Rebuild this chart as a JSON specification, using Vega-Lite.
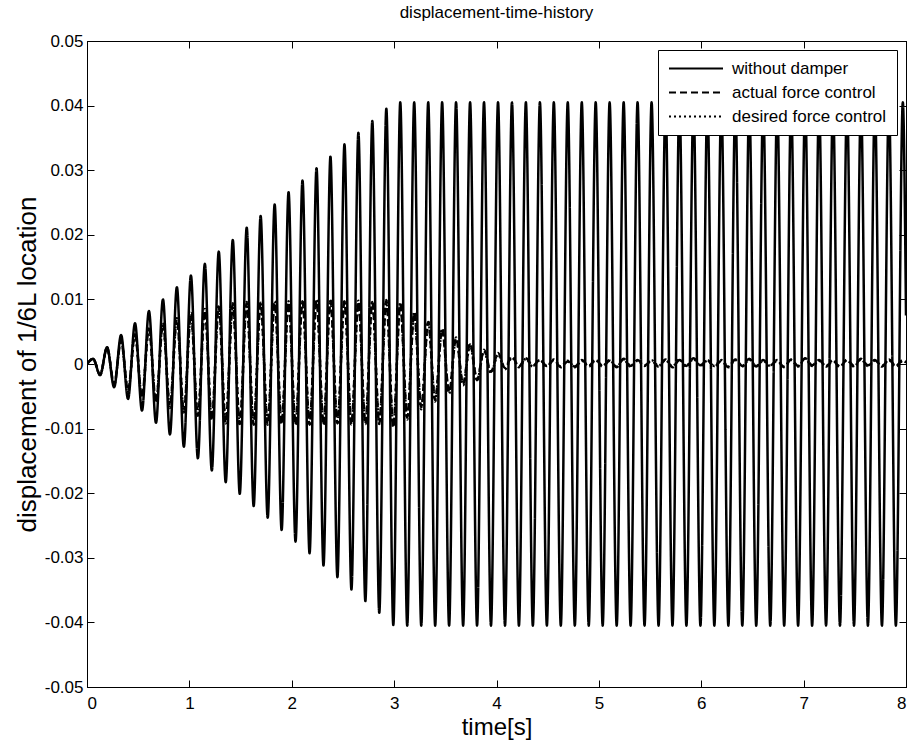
{
  "$schema": "https://vega.github.io/schema/vega-lite/v6.json",
  "width": 819,
  "height": 646,
  "autosize": {"type": "none"},
  "padding": {"left": 87, "top": 41, "right": 8, "bottom": 57},
  "background": "white",
  "config": {
    "font": "Liberation Sans",
    "view": {"stroke": "black", "strokeWidth": 1},
    "axis": {"grid": false, "domainColor": "black", "tickColor": "black", "labelColor": "black", "titleColor": "black", "labelFont": "Liberation Sans", "titleFont": "Liberation Sans", "labelFontSize": 17, "titleFontSize": 26, "titleFontWeight": "normal", "tickSize": -7, "domainWidth": 1, "tickWidth": 1}
  },
  "title": {"text": "displacement-time-history", "font": "Liberation Sans", "fontSize": 17, "fontWeight": "normal", "color": "black", "anchor": "middle", "offset": 10},
  "data": {"values": [
    {"t":0,"a":0,"b":0,"c":0},
    {"t":0.060,"a":0.0008,"b":0.0008,"c":0.0008},
    {"t":0.128,"a":-0.0017,"b":-0.0017,"c":-0.0017},
    {"t":0.196,"a":0.0026,"b":0.0025,"c":0.0026},
    {"t":0.265,"a":-0.0036,"b":-0.0031,"c":-0.0032},
    {"t":0.333,"a":0.0045,"b":0.0036,"c":0.0037},
    {"t":0.401,"a":-0.0054,"b":-0.0041,"c":-0.0042},
    {"t":0.469,"a":0.0063,"b":0.0046,"c":0.0047},
    {"t":0.537,"a":-0.0072,"b":-0.0051,"c":-0.0052},
    {"t":0.605,"a":0.0082,"b":0.0055,"c":0.0056},
    {"t":0.674,"a":-0.0091,"b":-0.0059,"c":-0.0060},
    {"t":0.742,"a":0.0100,"b":0.0062,"c":0.0064},
    {"t":0.810,"a":-0.0109,"b":-0.0066,"c":-0.0068},
    {"t":0.878,"a":0.0119,"b":0.0070,"c":0.0071},
    {"t":0.946,"a":-0.0128,"b":-0.0074,"c":-0.0075},
    {"t":1.015,"a":0.0137,"b":0.0077,"c":0.0079},
    {"t":1.083,"a":-0.0146,"b":-0.0080,"c":-0.0081},
    {"t":1.151,"a":0.0155,"b":0.0083,"c":0.0085},
    {"t":1.219,"a":-0.0165,"b":-0.0086,"c":-0.0087},
    {"t":1.287,"a":0.0174,"b":0.0089,"c":0.0090},
    {"t":1.355,"a":-0.0183,"b":-0.0091,"c":-0.0092},
    {"t":1.424,"a":0.0192,"b":0.0092,"c":0.0094},
    {"t":1.492,"a":-0.0201,"b":-0.0093,"c":-0.0094},
    {"t":1.560,"a":0.0211,"b":0.0094,"c":0.0096},
    {"t":1.628,"a":-0.0220,"b":-0.0094,"c":-0.0095},
    {"t":1.696,"a":0.0229,"b":0.0095,"c":0.0096},
    {"t":1.765,"a":-0.0238,"b":-0.0093,"c":-0.0094},
    {"t":1.833,"a":0.0247,"b":0.0095,"c":0.0097},
    {"t":1.901,"a":-0.0257,"b":-0.0092,"c":-0.0093},
    {"t":1.969,"a":0.0266,"b":0.0096,"c":0.0097},
    {"t":2.037,"a":-0.0275,"b":-0.0093,"c":-0.0094},
    {"t":2.105,"a":0.0284,"b":0.0097,"c":0.0098},
    {"t":2.174,"a":-0.0293,"b":-0.0094,"c":-0.0095},
    {"t":2.242,"a":0.0303,"b":0.0098,"c":0.0099},
    {"t":2.310,"a":-0.0312,"b":-0.0093,"c":-0.0094},
    {"t":2.378,"a":0.0321,"b":0.0098,"c":0.0099},
    {"t":2.446,"a":-0.0330,"b":-0.0092,"c":-0.0093},
    {"t":2.515,"a":0.0340,"b":0.0097,"c":0.0098},
    {"t":2.583,"a":-0.0349,"b":-0.0093,"c":-0.0094},
    {"t":2.651,"a":0.0358,"b":0.0097,"c":0.0098},
    {"t":2.719,"a":-0.0367,"b":-0.0092,"c":-0.0093},
    {"t":2.787,"a":0.0376,"b":0.0096,"c":0.0097},
    {"t":2.855,"a":-0.0385,"b":-0.0092,"c":-0.0093},
    {"t":2.924,"a":0.0395,"b":0.0098,"c":0.0099},
    {"t":2.992,"a":-0.0404,"b":-0.0097,"c":-0.0098},
    {"t":3.060,"a":0.0405,"b":0.0093,"c":0.0095},
    {"t":3.128,"a":-0.0405,"b":-0.0083,"c":-0.0086},
    {"t":3.196,"a":0.0405,"b":0.0079,"c":0.0081},
    {"t":3.265,"a":-0.0405,"b":-0.0067,"c":-0.0070},
    {"t":3.333,"a":0.0405,"b":0.0065,"c":0.0066},
    {"t":3.401,"a":-0.0405,"b":-0.0056,"c":-0.0058},
    {"t":3.469,"a":0.0405,"b":0.0054,"c":0.0055},
    {"t":3.537,"a":-0.0405,"b":-0.0044,"c":-0.0046},
    {"t":3.605,"a":0.0405,"b":0.0040,"c":0.0041},
    {"t":3.674,"a":-0.0405,"b":-0.0031,"c":-0.0033},
    {"t":3.742,"a":0.0405,"b":0.0032,"c":0.0030},
    {"t":3.810,"a":-0.0405,"b":-0.0025,"c":-0.0026},
    {"t":3.878,"a":0.0405,"b":0.0022,"c":0.0020},
    {"t":3.946,"a":-0.0405,"b":-0.0012,"c":-0.0014},
    {"t":4.015,"a":0.0405,"b":0.0017,"c":0.0015},
    {"t":4.083,"a":-0.0405,"b":-0.0006,"c":-0.0008},
    {"t":4.151,"a":0.0405,"b":0.0012,"c":0.0010},
    {"t":4.219,"a":-0.0405,"b":-0.0004,"c":-0.0005},
    {"t":4.287,"a":0.0405,"b":0.0009,"c":0.0008},
    {"t":4.355,"a":-0.0405,"b":-0.0003,"c":-0.0004},
    {"t":4.424,"a":0.0405,"b":0.0007,"c":0.0006},
    {"t":4.492,"a":-0.0405,"b":-0.0004,"c":-0.0003},
    {"t":4.560,"a":0.0405,"b":0.0006,"c":0.0007},
    {"t":4.628,"a":-0.0405,"b":-0.0005,"c":-0.0004},
    {"t":4.696,"a":0.0405,"b":0.0004,"c":0.0005},
    {"t":4.765,"a":-0.0405,"b":-0.0004,"c":-0.0005},
    {"t":4.833,"a":0.0405,"b":0.0006,"c":0.0005},
    {"t":4.901,"a":-0.0405,"b":-0.0003,"c":-0.0004},
    {"t":4.969,"a":0.0405,"b":0.0007,"c":0.0006},
    {"t":5.037,"a":-0.0405,"b":-0.0004,"c":-0.0003},
    {"t":5.105,"a":0.0405,"b":0.0005,"c":0.0006},
    {"t":5.174,"a":-0.0405,"b":-0.0005,"c":-0.0004},
    {"t":5.242,"a":0.0405,"b":0.0008,"c":0.0007},
    {"t":5.310,"a":-0.0405,"b":-0.0003,"c":-0.0004},
    {"t":5.378,"a":0.0405,"b":0.0006,"c":0.0005},
    {"t":5.446,"a":-0.0405,"b":-0.0002,"c":-0.0003},
    {"t":5.515,"a":0.0405,"b":0.0005,"c":0.0006},
    {"t":5.583,"a":-0.0405,"b":-0.0004,"c":-0.0003},
    {"t":5.651,"a":0.0405,"b":0.0007,"c":0.0006},
    {"t":5.719,"a":-0.0405,"b":-0.0005,"c":-0.0004},
    {"t":5.787,"a":0.0405,"b":0.0006,"c":0.0007},
    {"t":5.855,"a":-0.0405,"b":-0.0003,"c":-0.0004},
    {"t":5.924,"a":0.0405,"b":0.0009,"c":0.0008},
    {"t":5.992,"a":-0.0405,"b":-0.0002,"c":-0.0003},
    {"t":6.060,"a":0.0405,"b":0.0006,"c":0.0005},
    {"t":6.128,"a":-0.0405,"b":-0.0004,"c":-0.0003},
    {"t":6.196,"a":0.0405,"b":0.0005,"c":0.0006},
    {"t":6.265,"a":-0.0405,"b":-0.0005,"c":-0.0004},
    {"t":6.333,"a":0.0405,"b":0.0007,"c":0.0006},
    {"t":6.401,"a":-0.0405,"b":-0.0003,"c":-0.0004},
    {"t":6.469,"a":0.0405,"b":0.0008,"c":0.0007},
    {"t":6.537,"a":-0.0405,"b":-0.0004,"c":-0.0003},
    {"t":6.605,"a":0.0405,"b":0.0006,"c":0.0005},
    {"t":6.674,"a":-0.0405,"b":-0.0002,"c":-0.0003},
    {"t":6.742,"a":0.0405,"b":0.0005,"c":0.0006},
    {"t":6.810,"a":-0.0405,"b":-0.0005,"c":-0.0004},
    {"t":6.878,"a":0.0405,"b":0.0007,"c":0.0006},
    {"t":6.946,"a":-0.0405,"b":-0.0003,"c":-0.0004},
    {"t":7.015,"a":0.0405,"b":0.0009,"c":0.0008},
    {"t":7.083,"a":-0.0405,"b":-0.0002,"c":-0.0003},
    {"t":7.151,"a":0.0405,"b":0.0006,"c":0.0005},
    {"t":7.219,"a":-0.0405,"b":-0.0004,"c":-0.0003},
    {"t":7.287,"a":0.0405,"b":0.0005,"c":0.0006},
    {"t":7.355,"a":-0.0405,"b":-0.0005,"c":-0.0004},
    {"t":7.424,"a":0.0405,"b":0.0007,"c":0.0006},
    {"t":7.492,"a":-0.0405,"b":-0.0003,"c":-0.0004},
    {"t":7.560,"a":0.0405,"b":0.0008,"c":0.0007},
    {"t":7.628,"a":-0.0405,"b":-0.0002,"c":-0.0003},
    {"t":7.696,"a":0.0405,"b":0.0006,"c":0.0005},
    {"t":7.765,"a":-0.0405,"b":-0.0004,"c":-0.0003},
    {"t":7.833,"a":0.0405,"b":0.0007,"c":0.0006},
    {"t":7.901,"a":-0.0405,"b":-0.0003,"c":-0.0004},
    {"t":7.969,"a":0.0405,"b":0.0006,"c":0.0005},
    {"t":8.0,"a":0.0075,"b":0.0002,"c":0.0003}
  ]},
  "layer": [
    {
      "transform": [{"fold": ["a", "b", "c"], "as": ["key", "value"]}],
      "mark": {"type": "line", "interpolate": "monotone", "strokeWidth": 2.5, "color": "black", "clip": true},
      "encoding": {
        "x": {"field": "t", "type": "quantitative", "scale": {"domain": [0, 8], "nice": false, "zero": false},
          "axis": {"orient": "bottom", "values": [0,1,2,3,4,5,6,7,8], "format": "d", "labelPadding": 15, "title": "time[s]", "titleFontSize": 24, "titlePadding": 4}},
        "y": {"field": "value", "type": "quantitative", "scale": {"domain": [-0.05, 0.05], "nice": false, "zero": false},
          "axis": {"orient": "left", "values": [-0.05,-0.04,-0.03,-0.02,-0.01,0,0.01,0.02,0.03,0.04,0.05], "labelExpr": "datum.value < 0 ? '-' + format(-datum.value, '.2~f') : format(datum.value, '.2~f')", "labelPadding": 11, "title": "displacement of 1/6L location", "titlePadding": 4}},
        "strokeDash": {"field": "key", "type": "nominal",
          "scale": {"domain": ["a", "b", "c"], "range": [[1, 0], [7, 4], [2, 3]]},
          "legend": {"orient": "none", "legendX": 571, "legendY": 9, "title": null, "strokeColor": "black", "fillColor": "white", "padding": 10, "rowPadding": 6, "symbolType": "stroke", "symbolSize": 2916, "symbolStrokeWidth": 2, "symbolStrokeColor": "black", "labelFontSize": 17, "labelFont": "Liberation Sans", "labelColor": "black", "labelOffset": 8, "labelLimit": 400, "clipHeight": 17,
            "labelExpr": "datum.label == 'a' ? 'without damper' : datum.label == 'b' ? 'actual force control' : 'desired force control'"}}
      }
    },
    {
      "mark": {"type": "point", "opacity": 0},
      "encoding": {
        "x": {"field": "t", "type": "quantitative", "scale": {"domain": [0, 8], "nice": false, "zero": false},
          "axis": {"orient": "top", "values": [0,1,2,3,4,5,6,7,8], "labels": false, "title": null}},
        "y": {"field": "a", "type": "quantitative", "scale": {"domain": [-0.05, 0.05], "nice": false, "zero": false},
          "axis": {"orient": "right", "values": [-0.05,-0.04,-0.03,-0.02,-0.01,0,0.01,0.02,0.03,0.04,0.05], "labels": false, "title": null}}
      }
    }
  ],
  "resolve": {"axis": {"x": "independent", "y": "independent"}}
}
